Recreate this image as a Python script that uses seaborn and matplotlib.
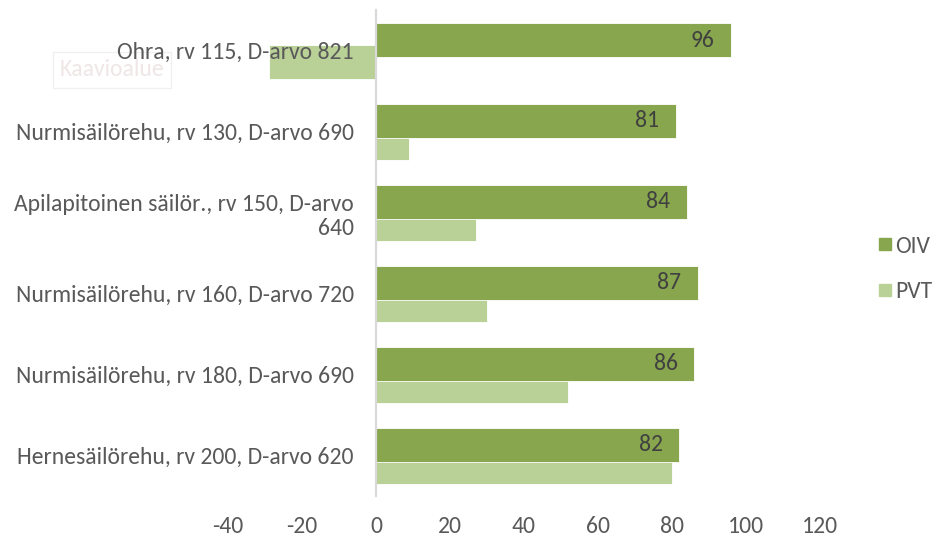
import numpy as np
import pandas as pd
import seaborn as sns
import matplotlib.pyplot as plt
from matplotlib.lines import Line2D

categories = [
    "Ohra, rv 115, D-arvo 821",
    "Nurmisäilörehu, rv 130, D-arvo 690",
    "Apilapitoinen säilör., rv 150, D-arvo\n640",
    "Nurmisäilörehu, rv 160, D-arvo 720",
    "Nurmisäilörehu, rv 180, D-arvo 690",
    "Hernesäilörehu, rv 200, D-arvo 620",
]
oiv = [96, 81, 84, 87, 86, 82]
pvt = [-29, 9, 27, 30, 52, 80]
series_names = ["OIV", "PVT"]
xticks = [-40, -20, 0, 20, 40, 60, 80, 100, 120]

OIV_C = "#88A64D"
PVT_C = "#B9D097"
TXT = "#595959"
FS = 17

sns.set_theme(style="white")
plt.rcParams["font.family"] = ["Carlito", "Liberation Sans", "DejaVu Sans"]

fig = plt.figure(figsize=(9.36, 5.38), dpi=100)
ax = fig.add_axes([0.2436, 0.0776, 0.6325, 0.9033])

pos = np.arange(len(categories))
off = 0.133
bw = 0.42

df_pvt = pd.DataFrame({"value": pvt, "pos": pos + off})
df_oiv = pd.DataFrame({"value": oiv, "pos": pos - off})

sns.barplot(data=df_pvt, x="value", y="pos", orient="h", native_scale=True,
            width=bw, color=PVT_C, saturation=1, ax=ax,
            edgecolor="white", linewidth=0.6, zorder=2)
sns.barplot(data=df_oiv, x="value", y="pos", orient="h", native_scale=True,
            width=bw, color=OIV_C, saturation=1, ax=ax,
            edgecolor="white", linewidth=0.6, zorder=3)

for v, p in zip(oiv, pos - off):
    ax.annotate(str(v), xy=(v, p), xytext=(-12, 0), textcoords="offset points",
                ha="right", va="center", fontsize=FS, color="#404040", zorder=5)

ax.set_xlim(-40, 120)
ax.set_ylim(len(categories) - 0.5, -0.5)
ax.set_xticks(xticks)
ax.set_xticklabels([str(t) for t in xticks])
ax.set_yticks(pos)
ax.set_yticklabels(categories)
for lab in ax.get_yticklabels():
    lab.set_multialignment("center")
    lab.set_linespacing(1.1)

ax.set_xlabel("")
ax.set_ylabel("")
for s in ["top", "right", "bottom"]:
    ax.spines[s].set_visible(False)
ax.spines["left"].set_position(("data", 0))
ax.spines["left"].set_color("#D9D9D9")
ax.spines["left"].set_linewidth(1.6)
ax.spines["left"].set_zorder(4)
ax.yaxis.set_zorder(6)

ax.tick_params(axis="x", length=0, pad=14, labelsize=FS, labelcolor=TXT)
ax.tick_params(axis="y", length=0, pad=16, labelsize=FS, labelcolor=TXT)
ax.grid(False)

handles = [Line2D([0], [0], marker="s", linestyle="", markersize=8,
                  markerfacecolor=c, markeredgecolor=c) for c in (OIV_C, PVT_C)]
fig.legend(handles, series_names, loc="center left",
           bbox_to_anchor=(868 / 936, 1 - 269 / 538), frameon=False,
           fontsize=FS, labelcolor=TXT, handlelength=0.6, handletextpad=0.15,
           labelspacing=1.05, borderaxespad=0)

ax.text(112 / 936, 1 - 70 / 538, "Kaavioalue", ha="center", va="center",
        transform=fig.transFigure, fontsize=FS, color="#EFE6E6",
        bbox=dict(boxstyle="square,pad=0.3", facecolor="white",
                  edgecolor="#F0F0F0", linewidth=1), zorder=1, clip_on=False)

fig.savefig("out.png", dpi=100)
